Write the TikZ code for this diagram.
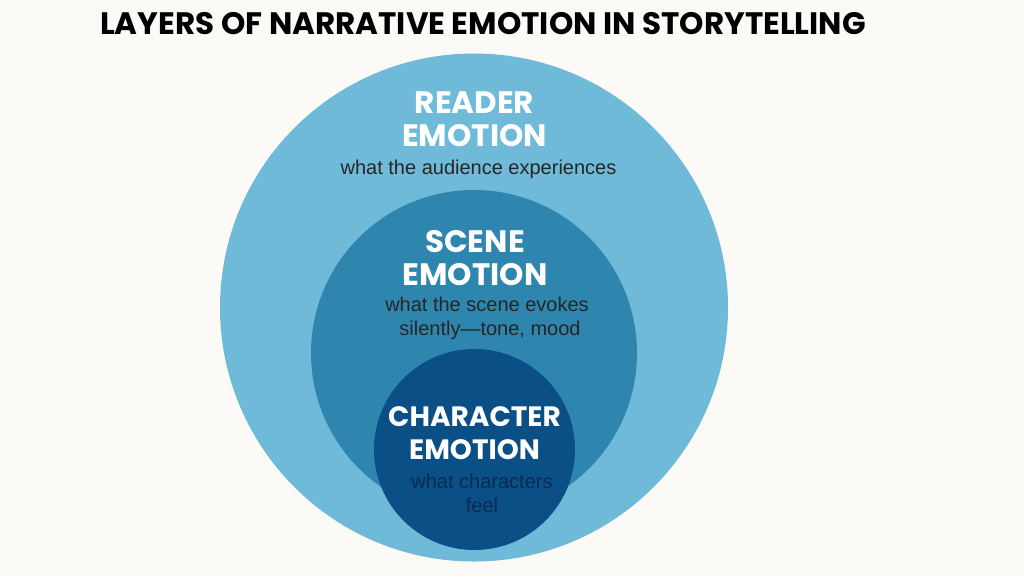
\documentclass[tikz,border=0pt]{standalone}
\usepackage{fontspec}
\setmainfont{Liberation Sans}
\newfontfamily\headfont{Poppins}
\definecolor{paper}{HTML}{FCFAF6}
\definecolor{outerblue}{HTML}{6FB9D9}
\definecolor{midblue}{HTML}{2E86AE}
\definecolor{innerblue}{HTML}{0B4F87}
\definecolor{subdark}{HTML}{0A2A50}
\begin{document}
\begin{tikzpicture}[x=1pt,y=-1pt,line join=round,line cap=round,
	layer/.style={circle,inner sep=0pt,minimum size=#1},
	head/.style={text=white,inner sep=0pt,font=\headfont\fontsize{31}{33}\selectfont\bfseries,align=center},
	sub/.style={text=black!85,inner sep=0pt,font=\fontsize{20}{24}\selectfont,align=center}]
	\useasboundingbox[fill=paper] (0,0) rectangle (1024,576);
	%Title
	\node[font=\headfont\fontsize{31}{33}\selectfont\bfseries] (title) at (483,24) {LAYERS OF NARRATIVE EMOTION IN STORYTELLING};
	%Circles
	\node[layer=508,fill=outerblue] (reader) at (474,307.5) {};
	\node[layer=326,fill=midblue] (scene) at (474,353) {};
	\node[layer=201,fill=innerblue] (character) at (474.5,449.5) {};
	%Texts
	\node[head] (readerhead) at (474.5,119) {READER\\EMOTION};
	\node[sub] (readersub) at (478.5,169) {what the audience experiences};
	\node[head] (scenehead) at (475,258) {SCENE\\EMOTION};
	\node[sub] (scenesub) at (487,318) {what the scene evokes\\\hspace*{6pt}silently---tone, mood};
	\node[head,font=\headfont\fontsize{28}{33}\selectfont\bfseries] (characterhead) at (474.5,433) {CHARACTER\\EMOTION};
	\node[sub,text=subdark] (charactersub) at (482,493.5) {what characters\\feel};
\end{tikzpicture}
\end{document}
